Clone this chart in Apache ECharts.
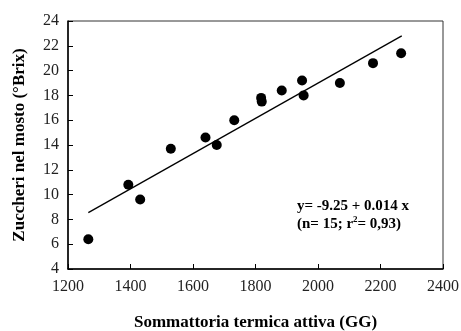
<!DOCTYPE html>
<html>
<head>
<meta charset="utf-8">
<script src="https://cdn.jsdelivr.net/npm/echarts@6/dist/echarts.min.js"></script>
<style>
  html, body { margin: 0; padding: 0; background: #fff; }
  #chart { width: 461px; height: 331px; }
</style>
</head>
<body>
<div id="chart"></div>
<script>
// sommattoria termica (GG) e zuccheri (°Brix)
const gg = [1265, 1393, 1431, 1529, 1640, 1676, 1732, 1818, 1820, 1884, 1949, 1954, 2070, 2176, 2266];
const brix = [6.4, 10.8, 9.6, 13.7, 14.6, 14.0, 16.0, 17.8, 17.5, 18.4, 19.2, 18.0, 19.0, 20.6, 21.4];

// retta di regressione (estremi)
const fitX = [1265, 2268];
const fitY = [8.55, 22.8];

const eqLine1 = 'y= -9.25 + 0.014 x';
const eqLine2 = '(n= 15; r{sup|2}= 0,93)';

const font = 'Liberation Serif';

const chart = echarts.init(document.getElementById('chart'));

const option = {
    animation: false,
    textStyle: { fontFamily: font, color: '#000' },
    grid: {
        left: 68,
        right: 18,
        top: 21,
        bottom: 62,
        outerBoundsMode: 'none',
        show: true,
        borderColor: '#333',
        borderWidth: 1,
    },
    xAxis: {
        type: 'value',
        min: 1200,
        max: 2400,
        interval: 200,
        name: 'Sommattoria termica attiva (GG)',
        nameLocation: 'middle',
        nameGap: 45,
        nameTextStyle: { fontFamily: font, fontWeight: 'bold', fontSize: 17, color: '#000' },
        axisLine: { lineStyle: { color: '#000', width: 1.5 } },
        axisTick: { inside: true, length: 5, lineStyle: { color: '#000' } },
        axisLabel: { fontFamily: font, fontSize: 16, color: '#222', margin: 10, formatter: (v) => String(v) },
        splitLine: { show: false },
    },
    yAxis: {
        type: 'value',
        min: 4,
        max: 24,
        interval: 2,
        name: 'Zuccheri nel mosto (°Brix)',
        nameLocation: 'middle',
        nameGap: 40,
        nameTextStyle: { fontFamily: font, fontWeight: 'bold', fontSize: 17, color: '#000' },
        axisLine: { lineStyle: { color: '#000', width: 1.5 } },
        axisTick: { inside: true, length: 5, lineStyle: { color: '#000' } },
        axisLabel: { fontFamily: font, fontSize: 16, color: '#222', margin: 9 },
        splitLine: { show: false },
    },
    series: [
        {
            type: 'scatter',
            data: gg.map((x, i) => [x, brix[i]]),
            symbolSize: 10,
            itemStyle: { color: '#000', opacity: 1 },
            z: 3,
        },
        {
            type: 'line',
            data: fitX.map((x, i) => [x, fitY[i]]),
            showSymbol: false,
            lineStyle: { color: '#000', width: 1.3 },
            z: 2,
        },
    ],
    graphic: [
        {
            type: 'text',
            left: 297,
            top: 199,
            style: {
                text: eqLine1,
                font: 'bold 15px "Liberation Serif"',
                fill: '#000',
            },
        },
        {
            type: 'text',
            left: 297,
            top: 215,
            style: {
                text: eqLine2,
                font: 'bold 15px "Liberation Serif"',
                fill: '#000',
                rich: {
                    sup: { fontSize: 9, fontWeight: 'bold', fontFamily: font, verticalAlign: 'top', padding: [0, 0, 10, 0] },
                },
            },
        },
    ],
};

chart.setOption(option);
</script>
</body>
</html>
